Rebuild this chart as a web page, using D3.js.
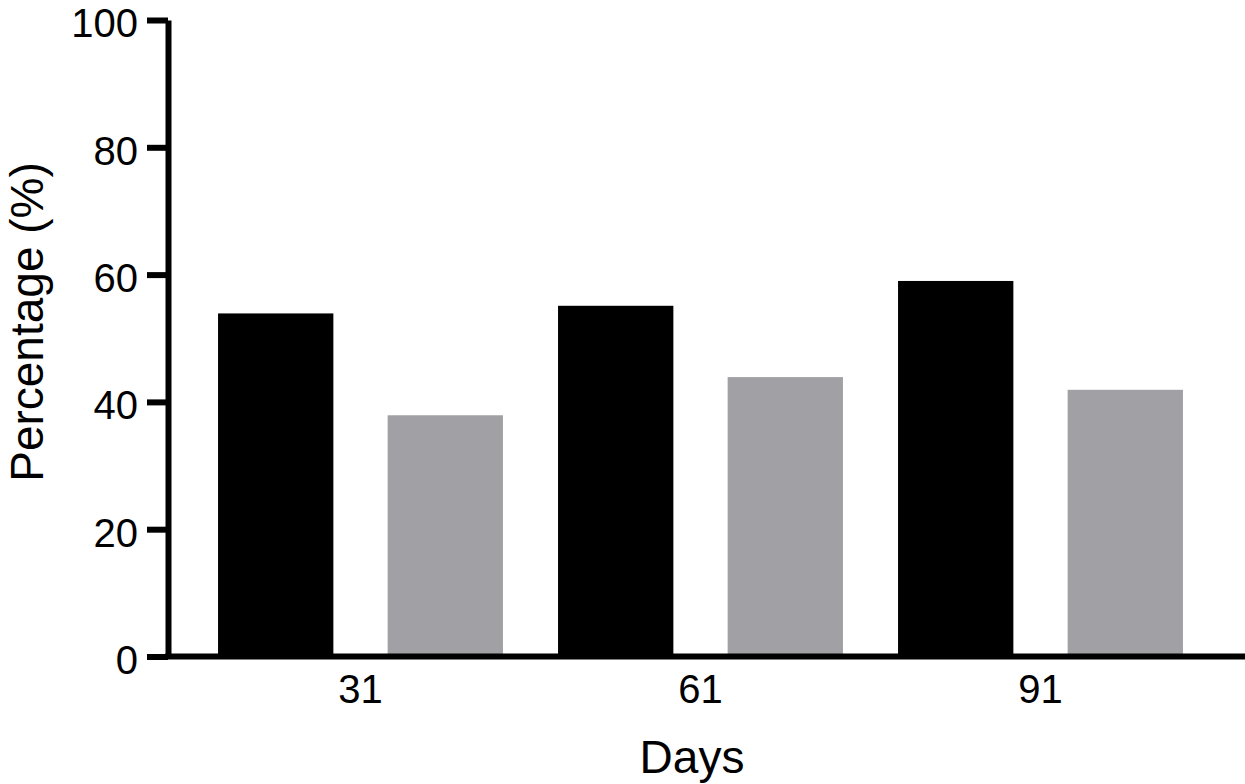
<!DOCTYPE html>
<html>
<head>
<meta charset="utf-8">
<script src="https://cdn.jsdelivr.net/npm/d3@7"></script>
<style>
  body { margin: 0; background: #fff; }
  text { font-family: "Liberation Sans", Arial, Helvetica, sans-serif; fill: #000; }
</style>
</head>
<body>
<div id="chart"></div>
<script>
// Chart data
const days = ['31', '61', '91'];
const blackValues = [53.9, 55.1, 59.0];
const greyValues = [37.9, 43.9, 41.9];
const yTicks = [0, 20, 40, 60, 80, 100];
const seriesKeys = ['black', 'grey'];
const seriesColors = ['#000000', '#a1a0a5'];

const width = 1245, height = 784;
const margin = {top: 20, right: 0, bottom: 127.5, left: 168};

const rows = days.map((d, i) => ({day: d, black: blackValues[i], grey: greyValues[i]}));

const svg = d3.select('#chart')
              .append('svg')
              .attr('width', width)
              .attr('height', height);

// Scales
const y = d3.scaleLinear()
            .domain([0, 100])
            .range([height - margin.bottom, margin.top]);

const x0 = d3.scaleBand()
             .domain(days)
             .range([190.5, 1210.5])
             .paddingInner(0.162)
             .paddingOuter(0.081);

const x1 = d3.scaleBand()
             .domain(seriesKeys)
             .range([0, x0.bandwidth()])
             .paddingInner(0.32);

const color = d3.scaleOrdinal().domain(seriesKeys).range(seriesColors);

// Bars
svg.append('g')
   .selectAll('g')
   .data(rows)
   .join('g')
   .attr('transform', d => `translate(${x0(d.day)},0)`)
   .selectAll('rect')
   .data(d => seriesKeys.map(k => ({key: k, value: d[k]})))
   .join('rect')
   .attr('x', d => x1(d.key))
   .attr('y', d => y(d.value))
   .attr('width', x1.bandwidth())
   .attr('height', d => y(0) - y(d.value))
   .attr('fill', d => color(d.key));

// X axis (no tick marks, just labels)
const xAxis = svg.append('g')
   .attr('transform', `translate(0,${y(0)})`)
   .call(d3.axisBottom(x0).tickSize(0).tickPadding(18.5));
xAxis.select('.domain')
     .attr('d', `M${margin.left - 3},0H${width}`)
     .attr('stroke', '#000')
     .attr('stroke-width', 6);
xAxis.selectAll('text')
     .attr('font-size', 40)
     .attr('font-family', '"Liberation Sans", Arial, Helvetica, sans-serif');

// Y axis
const yAxis = svg.append('g')
   .attr('transform', `translate(${margin.left},0)`)
   .call(d3.axisLeft(y).tickValues(yTicks).tickSize(21).tickSizeOuter(0).tickPadding(9));
yAxis.select('.domain')
     .attr('stroke', '#000')
     .attr('stroke-width', 6);
yAxis.selectAll('.tick line')
     .attr('stroke', '#000')
     .attr('stroke-width', 6);
yAxis.selectAll('text')
     .attr('font-size', 40)
     .attr('dy', '0.42em')
     .attr('font-family', '"Liberation Sans", Arial, Helvetica, sans-serif');

// Axis titles
svg.append('text')
   .attr('x', 692)
   .attr('y', 773)
   .attr('text-anchor', 'middle')
   .attr('font-size', 46)
   .text('Days');

svg.append('text')
   .attr('transform', 'translate(43,322) rotate(-90)')
   .attr('text-anchor', 'middle')
   .attr('font-size', 46)
   .text('Percentage (%)');
</script>
</body>
</html>
